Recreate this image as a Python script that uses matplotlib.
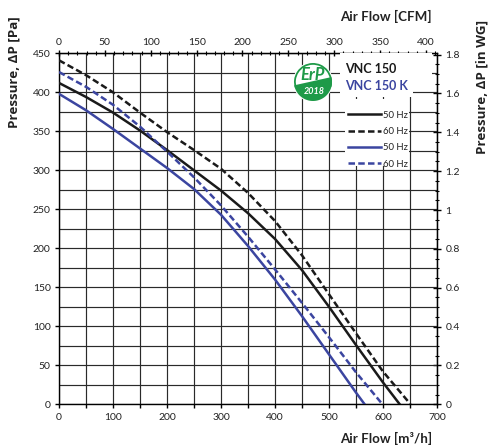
import matplotlib
matplotlib.use("Agg")
import matplotlib.pyplot as plt
from matplotlib.patches import Rectangle, Circle, Wedge, Polygon
from matplotlib.ticker import MultipleLocator, FuncFormatter
import numpy as np

plt.rcParams['font.family'] = ['Lato', 'DejaVu Sans']

# ---- data ----
flow_150_50 = [0, 50, 100, 150, 200, 250, 300, 350, 400, 450, 500, 550, 600, 631]
p_150_50 = [412, 394, 374, 351, 326, 300, 274, 245, 212, 172, 125, 76, 28, 0]

flow_150_60 = [0, 50, 100, 150, 200, 250, 300, 350, 400, 450, 500, 550, 600, 651]
p_150_60 = [441, 422, 400, 374, 349, 326, 302, 271, 235, 191, 141, 91, 42, 0]

flow_150K_50 = [0, 50, 100, 150, 200, 250, 300, 350, 400, 450, 500, 550, 566]
p_150K_50 = [398, 377, 353, 328, 303, 276, 243, 203, 160, 113, 64, 15, 0]

flow_150K_60 = [0, 50, 100, 150, 200, 250, 300, 350, 400, 450, 500, 550, 599]
p_150K_60 = [426, 407, 384, 356, 324, 291, 255, 215, 173, 130, 86, 41, 0]

legend_labels = ['50 Hz', '60 Hz', '50 Hz', '60 Hz']
model_names = ['VNC 150', 'VNC 150 K']

BLACK = '#1a1a1a'
BLUE = '#3b45a0'
GREEN = '#1e9a48'
TXT = '#222222'

W, H = 491, 448
fig = plt.figure(figsize=(W / 100, H / 100), dpi=100)
ax = fig.add_axes([59 / W, (H - 404.3) / H, (437 - 59) / W, (404.3 - 53.3) / H])

ax.set_xlim(0, 700)
ax.set_ylim(0, 450)
ax.set_axisbelow(True)

ax.xaxis.set_major_locator(MultipleLocator(100))
ax.xaxis.set_minor_locator(MultipleLocator(50))
ax.yaxis.set_major_locator(MultipleLocator(50))
ax.yaxis.set_minor_locator(MultipleLocator(25))
ax.grid(True, which='both', color='#2a2a2a', linewidth=0.85)
ax.tick_params(axis='x', which='major', direction='out', length=3, width=1, labelsize=7.5, labelcolor=TXT, pad=3)
ax.tick_params(axis='x', which='minor', direction='out', length=3, width=1)
ax.tick_params(axis='y', which='major', direction='out', length=3, width=1, labelsize=7.5, labelcolor=TXT, pad=3)
ax.tick_params(axis='y', which='minor', length=0)
for s in ax.spines.values():
    s.set_color('black')
    s.set_linewidth(1.0)

lw = 1.8
dash = (2.6, 1.3)
l1, = ax.plot(flow_150_50, p_150_50, color=BLACK, lw=lw, zorder=3)
l2, = ax.plot(flow_150_60, p_150_60, color=BLACK, lw=lw, zorder=3)
l2.set_dashes(dash)
l3, = ax.plot(flow_150K_50, p_150K_50, color=BLUE, lw=lw, zorder=3)
l4, = ax.plot(flow_150K_60, p_150K_60, color=BLUE, lw=lw, zorder=3)
l4.set_dashes(dash)

# white panels behind the title block and legend
ax.add_patch(Rectangle((520, 394), 135, 56, facecolor='white', edgecolor='none', zorder=4))
ax.add_patch(Rectangle((655, 410), 35, 40, facecolor='white', edgecolor='none', zorder=4))
ax.add_patch(Rectangle((530, 305), 118, 86, facecolor='white', edgecolor='none', zorder=4))

leg = ax.legend([l1, l2, l3, l4], legend_labels, loc='upper left',
                bbox_to_anchor=(531 / 700, 379 / 450), borderaxespad=0,
                frameon=False, fontsize=6.8, handlelength=3.5, handletextpad=0.2,
                labelspacing=0.78, borderpad=0.2)
for t in leg.get_texts():
    t.set_color(TXT)
leg.set_zorder(5)

# secondary axes
top = ax.secondary_xaxis('top', functions=(lambda q: q / 1.699, lambda c: c * 1.699))
top.xaxis.set_major_locator(MultipleLocator(50))
top.xaxis.set_minor_locator(MultipleLocator(10))
top.tick_params(which='major', direction='inout', length=5, width=1, labelsize=7.5, labelcolor=TXT, pad=2)
top.tick_params(which='minor', direction='inout', length=3, width=0.8)

right = ax.secondary_yaxis('right', functions=(lambda p: p / 249.09, lambda w: w * 249.09))
right.yaxis.set_major_locator(MultipleLocator(0.2))
right.yaxis.set_minor_locator(MultipleLocator(0.05))
right.yaxis.set_major_formatter(FuncFormatter(lambda v, pos: ('%.1f' % v).rstrip('0').rstrip('.') if abs(v) > 1e-9 else '0'))
right.tick_params(which='major', direction='inout', length=6, width=1, labelsize=7.5, labelcolor=TXT, pad=3)
right.tick_params(which='minor', direction='inout', length=3, width=0.8)

# axis titles
fig.text(432 / W, 1 - 438 / H, 'Air Flow [m³/h]', ha='right', va='center', fontsize=9.6, fontweight='bold', color=TXT)
fig.text(432 / W, 1 - 16 / H, 'Air Flow [CFM]', ha='right', va='center', fontsize=9.6, fontweight='bold', color=TXT)
fig.text(14 / W, 1 - 16 / H, 'Pressure, ΔP [Pa]', ha='center', va='top', rotation=90, fontsize=9.6,
         fontweight='bold', color=TXT, family=['Open Sans', 'DejaVu Sans'])
fig.text(482 / W, 1 - 20 / H, 'Pressure, ΔP [in WG]', ha='center', va='top', rotation=90, fontsize=9.6,
         fontweight='bold', color=TXT, family=['Open Sans', 'DejaVu Sans'])

# model names
fig.text(345 / W, 1 - 69 / H, model_names[0], ha='left', va='center', fontsize=9.0, fontweight='bold', color=BLACK, zorder=10)
fig.text(345 / W, 1 - 86 / H, model_names[1], ha='left', va='center', fontsize=9.0, fontweight='bold', color=BLUE, zorder=10)

# ErP logo
cx, cy, r = 313, 82, 22
lax = fig.add_axes([(cx - r) / W, 1 - (cy + r) / H, 2 * r / W, 2 * r / H])
lax.set_xlim(-1.1, 1.1)
lax.set_ylim(-1.1, 1.1)
lax.axis('off')
lax.add_patch(Circle((0, 0), 1.0, facecolor='white', edgecolor='none'))
lax.add_patch(Wedge((0, 0), 0.95, -15, 200, width=0.09, facecolor=GREEN, edgecolor='none'))
th = np.radians(np.linspace(190, 375, 60))
pts = np.column_stack([0.95 * np.cos(th), 0.95 * np.sin(th)])
lax.add_patch(Polygon(pts, closed=True, facecolor=GREEN, edgecolor='none'))
lax.text(0.0, 0.33, 'ErP', ha='center', va='center', fontsize=12, fontweight='bold', style='italic', color=GREEN)
lax.text(0.08, -0.47, '2018', ha='center', va='center', fontsize=6.5, fontweight='bold', style='italic', color='white')

fig.savefig('out.png', dpi=100)
